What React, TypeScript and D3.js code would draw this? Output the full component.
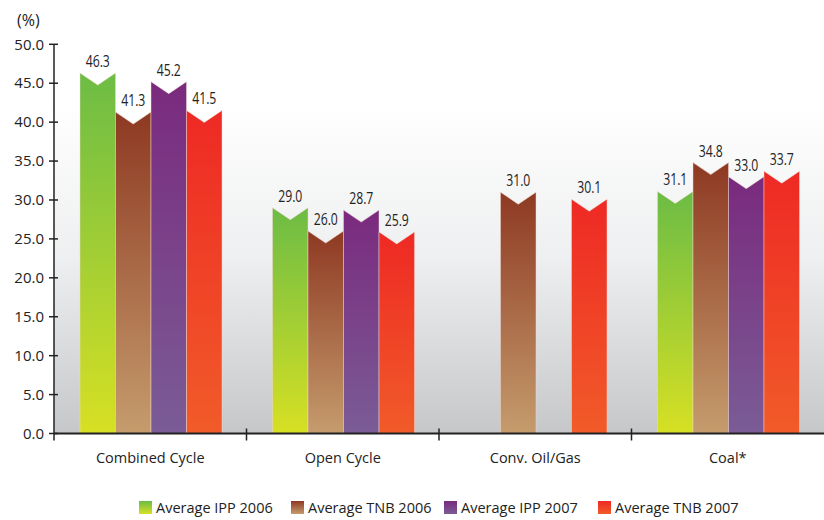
import React from 'react';
import * as d3 from 'd3';

const categories = ['Combined Cycle', 'Open Cycle', 'Conv. Oil/Gas', 'Coal*'];
const seriesNames = ['Average IPP 2006', 'Average TNB 2006', 'Average IPP 2007', 'Average TNB 2007'];
const ipp2006 = [46.3, 29.0, null, 31.1];
const tnb2006 = [41.3, 26.0, 31.0, 34.8];
const ipp2007 = [45.2, 28.7, null, 33.0];
const tnb2007 = [41.5, 25.9, 30.1, 33.7];
const yTicks = [0, 5, 10, 15, 20, 25, 30, 35, 40, 45, 50];

const seriesValues = [ipp2006, tnb2006, ipp2007, tnb2007];
// top colour, bottom colour of each bar gradient
const gradients = [
  ['#6cbc45', '#d7e023'],
  ['#8e3922', '#c59c6d'],
  ['#7a2a7e', '#7a5c96'],
  ['#ee2924', '#f15b29'],
];

const W = 824;
const H = 520;
const left = 54;
const right = 824;
const top = 44.3;
const bottom = 433.5;
const notch = 12;

const App = () => {
  const x = d3.scaleBand<string>().domain(categories).range([left, right]).padding(0);
  const inner = d3
    .scaleBand<number>()
    .domain([0, 1, 2, 3])
    .range([26, x.bandwidth() - 24.5])
    .padding(0);
  const y = d3.scaleLinear().domain([0, 50]).range([bottom, top]);

  const barPath = (x0: number, w: number, v: number) => {
    const yt = y(v);
    return `M${x0},${bottom} L${x0},${yt} L${x0 + w / 2},${yt + notch} L${x0 + w},${yt} L${x0 + w},${bottom} Z`;
  };

  const legendX = [139, 291, 444, 598];

  return (
    <svg width={W} height={H} style={{ position: 'absolute', left: 0, top: 0 }}>
      <defs>
        <linearGradient id="bg" x1="0" y1="0" x2="0" y2="1">
          <stop offset="0" stopColor="#ffffff" />
          <stop offset="0.15" stopColor="#ffffff" />
          <stop offset="0.55" stopColor="#eeeff0" />
          <stop offset="1" stopColor="#c6c7c9" />
        </linearGradient>
        {gradients.map((g, i) => (
          <linearGradient key={i} id={`g${i}`} x1="0" y1="0" x2="0" y2="1">
            <stop offset="0" stopColor={g[0]} />
            <stop offset="1" stopColor={g[1]} />
          </linearGradient>
        ))}
      </defs>
      <rect x={0} y={0} width={W} height={H} fill="#ffffff" />
      <rect x={left} y={top} width={right - left} height={bottom - top} fill="url(#bg)" />

      {categories.map((c, ci) =>
        seriesValues.map((vals, si) => {
          const v = vals[ci];
          if (v == null) return null;
          const x0 = (x(c) as number) + (inner(si) as number);
          const w = inner.bandwidth();
          return (
            <g key={`${ci}-${si}`}>
              <path d={barPath(x0, w, v)} fill={`url(#g${si})`} stroke="#f2d6d0" strokeOpacity={0.6} strokeWidth={0.8} />
              <text
                transform={`translate(${x0 + w / 2},${y(v) - 6}) scale(0.72,1)`}
                textAnchor="middle"
                fontFamily="'Open Sans', sans-serif"
                fontSize={17}
                fill="#222"
              >
                {v.toFixed(1)}
              </text>
            </g>
          );
        })
      )}

      {/* y axis */}
      <line x1={left} x2={left} y1={top} y2={bottom} stroke="#222" strokeWidth={1.5} />
      {yTicks.map((t) => (
        <g key={t}>
          <line x1={left - 5} x2={left + 4} y1={y(t)} y2={y(t)} stroke="#222" strokeWidth={1.5} />
          <text
            x={left - 10}
            y={y(t)}
            dy="0.35em"
            textAnchor="end"
            fontFamily="'Open Sans', sans-serif"
            fontSize={15}
            fill="#222"
          >
            {t.toFixed(1)}
          </text>
        </g>
      ))}
      <text x={17} y={26} fontFamily="'Open Sans', sans-serif" fontSize={16} fill="#222">
        (%)
      </text>

      {/* x axis */}
      <line x1={left} x2={right} y1={bottom} y2={bottom} stroke="#222" strokeWidth={2} />
      {categories.map((c, i) => (
        <g key={c}>
          {i > 0 && (
            <line x1={x(c)} x2={x(c)} y1={bottom - 5} y2={bottom + 7} stroke="#222" strokeWidth={1.5} />
          )}
          <text
            x={(x(c) as number) + x.bandwidth() / 2}
            y={bottom + 29}
            textAnchor="middle"
            fontFamily="'Open Sans', sans-serif"
            fontSize={14.5}
            fill="#222"
          >
            {c}
          </text>
        </g>
      ))}
      <line x1={left} x2={left} y1={bottom} y2={bottom + 7} stroke="#222" strokeWidth={1.5} />

      {/* legend */}
      {seriesNames.map((s, i) => (
        <g key={s} transform={`translate(${legendX[i]},501)`}>
          <rect width={13} height={13} fill={`url(#g${i})`} />
          <text x={17} y={11.5} fontFamily="'Open Sans', sans-serif" fontSize={14.5} fill="#222">
            {s}
          </text>
        </g>
      ))}
    </svg>
  );
};

export default App;
